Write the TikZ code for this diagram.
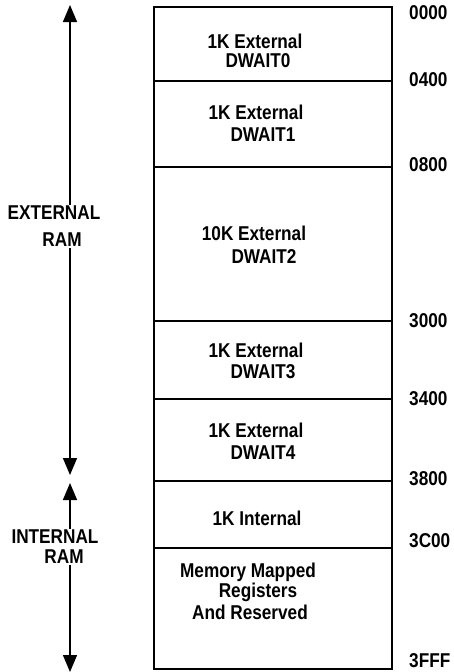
\documentclass[tikz,border=0pt]{standalone}
\usepackage{fontspec}
\setmainfont{Liberation Sans}[FakeStretch=0.86]
\usetikzlibrary{arrows.meta}
\tikzset{
  memtext/.style={font=\bfseries\fontsize{20}{23}\selectfont, inner sep=1pt},
  addr/.style={memtext, anchor=west},
  ramarrow/.style={line width=1.4pt, -{Triangle[width=14pt,length=17pt]}},
}

\begin{document}
\begin{tikzpicture}[x=1pt, y=-1pt]
  \useasboundingbox (0,0) rectangle (454,672);
  % memory map outline and section dividers
  \draw[line width=2.4pt] (154,7) rectangle (392,669);
  \foreach \yy in {81,167,321,399,481,548}
    \draw[line width=1.2pt] (154,\yy) -- (392,\yy);

  % section texts
  \node[memtext] (ext0a) at (255,41) {1K External};
  \node[memtext] (ext0b) at (258,61) {DWAIT0};
  \node[memtext] (ext1a) at (256,112) {1K External};
  \node[memtext] (ext1b) at (263,135) {DWAIT1};
  \node[memtext] (ext2a) at (254,233) {10K External};
  \node[memtext] (ext2b) at (264,257) {DWAIT2};
  \node[memtext] (ext3a) at (256,350) {1K External};
  \node[memtext] (ext3b) at (263,372) {DWAIT3};
  \node[memtext] (ext4a) at (256,430) {1K External};
  \node[memtext] (ext4b) at (263,453) {DWAIT4};
  \node[memtext] (int0) at (257,518) {1K Internal};
  \node[memtext] (mmra) at (248,572) {Memory Mapped};
  \node[memtext] (mmrb) at (258,592) {Registers};
  \node[memtext] (mmrc) at (250,612) {And Reserved};

  % addresses
  \node[addr] (a0000) at (408,13) {0000};
  \node[addr] (a0400) at (408,80) {0400};
  \node[addr] (a0800) at (408,165) {0800};
  \node[addr] (a3000) at (408,321) {3000};
  \node[addr] (a3400) at (408,399) {3400};
  \node[addr] (a3800) at (408,479) {3800};
  \node[addr] (a3C00) at (408,541) {3C00};
  \node[addr] (a3FFF) at (408,661) {3FFF};

  % RAM ranges
  \node[memtext] (extA) at (54,213) {EXTERNAL};
  \node[memtext] (extB) at (62,240) {RAM};
  \coordinate (extTop) at (70,5);
  \coordinate (extBot) at (70,475);
  \draw[ramarrow] (extA.north -| extTop) -- (extTop);
  \draw[ramarrow] (extB.south -| extBot) -- (extBot);

  \node[memtext] (intA) at (55,537) {INTERNAL};
  \node[memtext] (intB) at (64,557) {RAM};
  \coordinate (intTop) at (70,483);
  \coordinate (intBot) at (70,672);
  \draw[ramarrow] (intA.north -| intTop) -- (intTop);
  \draw[ramarrow] (intB.south -| intBot) -- (intBot);
\end{tikzpicture}
\end{document}
